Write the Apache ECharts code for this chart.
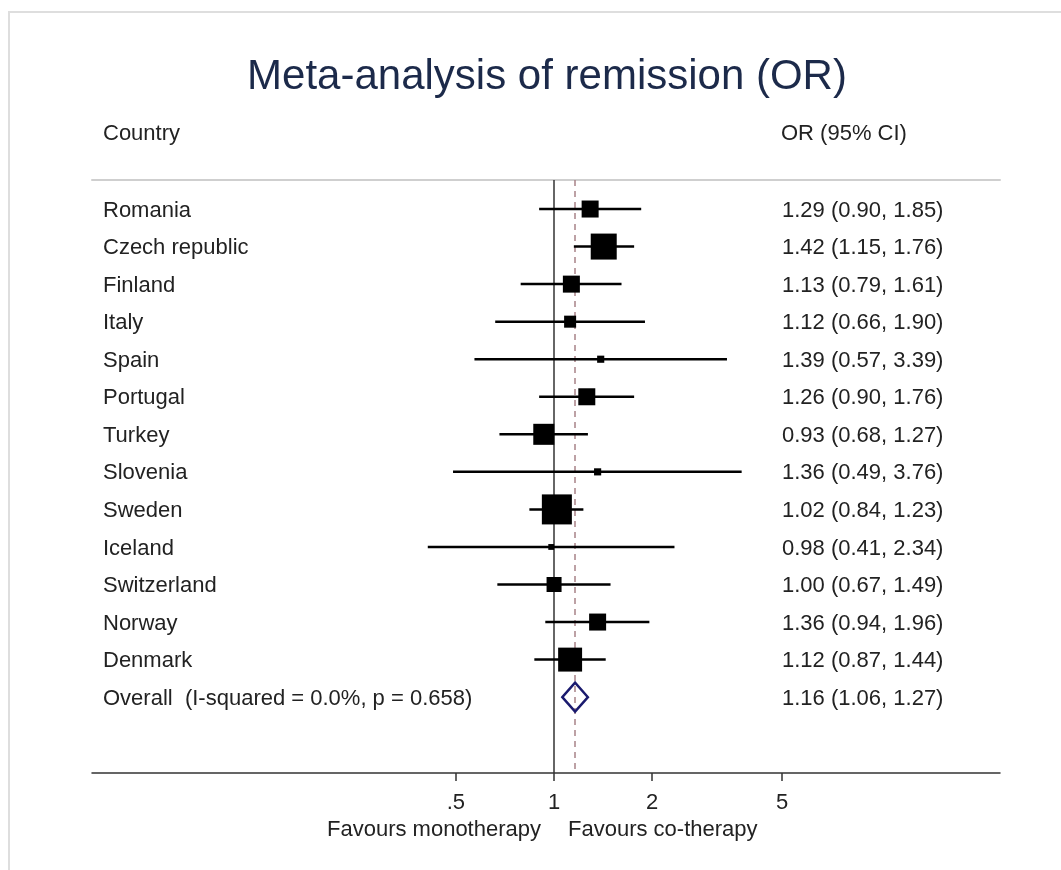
<!DOCTYPE html>
<html>
<head>
<meta charset="utf-8">
<script src="https://cdn.jsdelivr.net/npm/echarts@6/dist/echarts.min.js"></script>
<style>
html,body{margin:0;padding:0;background:#fff;}
#chart{width:1061px;height:870px;}
</style>
</head>
<body>
<div id="chart"></div>
<script>
const countries = ["Romania","Czech republic","Finland","Italy","Spain","Portugal","Turkey","Slovenia","Sweden","Iceland","Switzerland","Norway","Denmark"];
const orValues = [1.29,1.42,1.13,1.12,1.39,1.26,0.93,1.36,1.02,0.98,1.00,1.36,1.12];
const ciLow    = [0.90,1.15,0.79,0.66,0.57,0.90,0.68,0.49,0.84,0.41,0.67,0.94,0.87];
const ciHigh   = [1.85,1.76,1.61,1.90,3.39,1.76,1.27,3.76,1.23,2.34,1.49,1.96,1.44];
const weights  = [6.8,15.9,6.8,3.4,1.2,6.8,10.4,1.2,21.2,0.8,5.3,6.8,13.5];
const overallLabel = "Overall  (I-squared = 0.0%, p = 0.658)";
const overallValues = [1.16, 1.06, 1.27]; // OR, low, high
const tickValues = [0.5, 1, 2, 5];
const tickLabels = [".5", "1", "2", "5"];
const titleText = "Meta-analysis of remission (OR)";
const leftHeader = "Country";
const rightHeader = "OR (95% CI)";
const favourLeft = "Favours monotherapy";
const favourRight = "Favours co-therapy";

const FONT = "'Liberation Sans', Arial, sans-serif";
const TXT = '#222';
const FS = 22;
const fmt = v => v.toFixed(2);

const chart = echarts.init(document.getElementById('chart'), null, {renderer:'canvas'});

const nRows = countries.length;
const rowData = countries.map((c, k) => [orValues[k], k, ciLow[k], ciHigh[k], weights[k]]);
const textRows = countries.map((c, k) => ({value:[1, k], name:c, ci:`${fmt(orValues[k])} (${fmt(ciLow[k])}, ${fmt(ciHigh[k])})`}));
textRows.push({value:[1, nRows], name:overallLabel, ci:`${fmt(overallValues[0])} (${fmt(overallValues[1])}, ${fmt(overallValues[2])})`});

const xMin = 0.0383, xMax = 23.3;

const option = {
  animation:false,
  backgroundColor:'#fff',
  grid:{left:92, right:61, top:180, bottom:97},
  xAxis:[{
    type:'log', logBase:10, min:xMin, max:xMax, position:'bottom',
    axisLine:{show:true, onZero:false, lineStyle:{color:'#333', width:1.5}},
    axisTick:{show:true, customValues:tickValues, length:8, lineStyle:{color:'#333', width:1.5}},
    axisLabel:{show:true, customValues:tickValues, margin:19, fontSize:FS, fontFamily:FONT, color:TXT,
      formatter: v => { const i = tickValues.findIndex(t => Math.abs(t - v) < 1e-6); return i >= 0 ? tickLabels[i] : ''; }},
    splitLine:{show:false}, minorTick:{show:false}, minorSplitLine:{show:false}
  },{
    type:'log', logBase:10, min:xMin, max:xMax, position:'top',
    axisLine:{show:true, onZero:false, lineStyle:{color:'#cfcfcf', width:2}},
    axisTick:{show:false}, axisLabel:{show:false}, splitLine:{show:false}
  }],
  yAxis:{type:'value', inverse:true, min:-0.773, max:15.02, show:false, splitLine:{show:false}},
  series:[
    {
      type:'line', name:'refLines', xAxisIndex:0, data:[], z:1,
      markLine:{
        silent:true, symbol:['none','none'], label:{show:false}, z:1,
        data:[
          {xAxis:1, lineStyle:{color:'#333', width:1.5, type:'solid'}},
          {xAxis:overallValues[0], lineStyle:{color:'#a88288', width:1.5, type:[6,5]}}
        ]
      }
    },
    {
      type:'custom', name:'studies', xAxisIndex:0,
      encode:{x:[0,2,3], y:1},
      data:rowData,
      renderItem:(params, api) => {
        const y = api.value(1);
        const pLo = api.coord([api.value(2), y]);
        const pHi = api.coord([api.value(3), y]);
        const p = api.coord([api.value(0), y]);
        const s = 6.52 * Math.sqrt(api.value(4));
        return {type:'group', children:[
          {type:'line', shape:{x1:pLo[0], y1:pLo[1], x2:pHi[0], y2:pHi[1]}, style:{stroke:'#000', lineWidth:2.5}},
          {type:'rect', shape:{x:p[0]-s/2, y:p[1]-s/2, width:s, height:s}, style:{fill:'#000'}}
        ]};
      },
      z:3
    },
    {
      type:'custom', name:'overall', xAxisIndex:0,
      encode:{x:[0,2,3], y:1},
      data:[[overallValues[0], nRows, overallValues[1], overallValues[2]]],
      renderItem:(params, api) => {
        const y = api.value(1);
        const pLo = api.coord([api.value(2), y]);
        const pHi = api.coord([api.value(3), y]);
        const p = api.coord([api.value(0), y]);
        const h = 14.5;
        return {type:'polygon', shape:{points:[[pLo[0], p[1]], [p[0], p[1]-h], [pHi[0], p[1]], [p[0], p[1]+h]]},
          style:{fill:'none', stroke:'#1a1a6e', lineWidth:2.4}};
      },
      z:4
    },
    {
      type:'custom', name:'labels', xAxisIndex:0,
      encode:{x:0, y:1},
      data:textRows,
      renderItem:(params, api) => {
        const idx = params.dataIndex;
        const y = api.coord([1, api.value(1)])[1] + 1.5;
        const cs = params.coordSys;
        return {type:'group', children:[
          {type:'text', x:cs.x + 11, y:y, style:{text:textRows[idx].name, fill:TXT, font:`${FS}px ${FONT}`, textAlign:'left', textVerticalAlign:'middle'}},
          {type:'text', x:cs.x + 690, y:y, style:{text:textRows[idx].ci, fill:TXT, font:`${FS}px ${FONT}`, textAlign:'left', textVerticalAlign:'middle'}}
        ]};
      },
      z:5
    }
  ],
  graphic:[
    {type:'rect', shape:{x:9, y:12, width:1200, height:1000}, style:{fill:'none', stroke:'#dedede', lineWidth:2}, silent:true, z:0},
    {type:'text', x:547, y:77, style:{text:titleText, fill:'#1c2a4a', font:`42px ${FONT}`, textAlign:'center', textVerticalAlign:'middle'}},
    {type:'text', x:103, y:134, style:{text:leftHeader, fill:TXT, font:`${FS}px ${FONT}`, textAlign:'left', textVerticalAlign:'middle'}},
    {type:'text', x:781, y:134, style:{text:rightHeader, fill:TXT, font:`${FS}px ${FONT}`, textAlign:'left', textVerticalAlign:'middle'}},
    {type:'text', x:541, y:830, style:{text:favourLeft, fill:TXT, font:`${FS}px ${FONT}`, textAlign:'right', textVerticalAlign:'middle'}},
    {type:'text', x:568, y:830, style:{text:favourRight, fill:TXT, font:`${FS}px ${FONT}`, textAlign:'left', textVerticalAlign:'middle'}}
  ]
};
chart.setOption(option);
</script>
</body>
</html>
